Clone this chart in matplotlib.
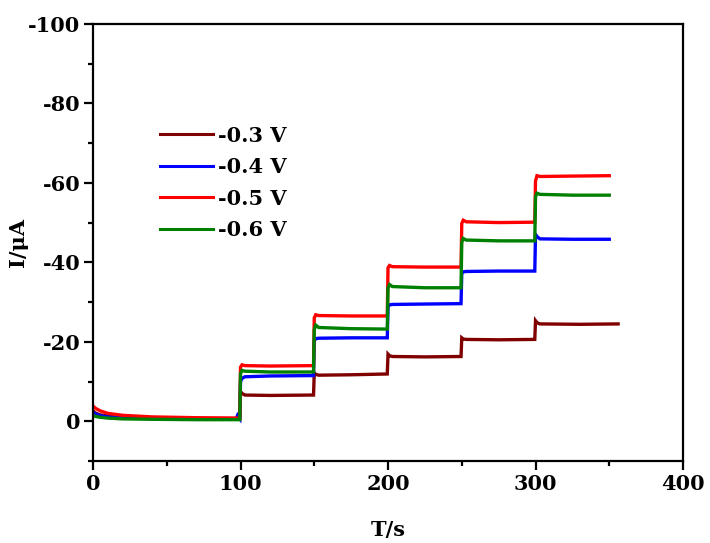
import matplotlib
matplotlib.use("Agg")
import matplotlib.pyplot as plt
from matplotlib.ticker import MultipleLocator

# ---- data (time in s, current in uA) ----
t_03 = [0, 2, 5, 10, 20, 40, 70, 99.5, 100, 101, 103, 120, 149.5, 150, 151, 153, 175, 199.5, 200, 201, 203, 225, 249.5, 250, 251, 253, 275, 299.5, 300, 301, 303, 330, 356]
i_03 = [-2.6, -2.0, -1.6, -1.3, -1.0, -0.8, -0.7, -0.7, -7.5, -7.0, -6.6, -6.5, -6.6, -12.2, -11.8, -11.6, -11.7, -11.9, -16.9, -16.5, -16.3, -16.2, -16.3, -21.0, -20.7, -20.6, -20.5, -20.6, -25.3, -24.8, -24.5, -24.4, -24.5]

t_04 = [0, 2, 5, 10, 20, 40, 70, 97, 98, 99.5, 100, 101, 103, 120, 149.5, 150, 151, 153, 175, 199.5, 200, 201, 203, 225, 249.5, 250, 251, 253, 275, 299.5, 300, 301, 303, 325, 350]
i_04 = [-2.2, -1.8, -1.4, -1.1, -0.9, -0.7, -0.6, -0.6, -1.5, -0.7, -10.0, -10.8, -11.2, -11.4, -11.5, -20.2, -20.8, -20.9, -21.0, -21.0, -28.8, -29.3, -29.4, -29.5, -29.6, -37.2, -37.6, -37.7, -37.8, -37.8, -47.0, -46.5, -45.9, -45.8, -45.8]

t_05 = [0, 2, 5, 10, 20, 40, 70, 99.5, 100, 101, 103, 120, 149.5, 150, 151, 153, 175, 199.5, 200, 201, 203, 225, 249.5, 250, 251, 253, 275, 299.5, 300, 301, 303, 325, 350]
i_05 = [-3.8, -3.2, -2.6, -2.0, -1.5, -1.1, -0.9, -0.8, -13.6, -14.2, -14.0, -13.9, -14.0, -26.0, -26.8, -26.6, -26.5, -26.5, -38.6, -39.2, -38.9, -38.8, -38.8, -49.8, -50.6, -50.2, -50.0, -50.1, -60.5, -61.8, -61.6, -61.7, -61.8]

t_06 = [0, 2, 5, 10, 20, 40, 70, 99.5, 100, 101, 103, 120, 149.5, 150, 151, 153, 175, 199.5, 200, 201, 203, 225, 249.5, 250, 251, 253, 275, 299.5, 300, 301, 303, 325, 350]
i_06 = [-1.5, -1.2, -1.0, -0.8, -0.6, -0.5, -0.4, -0.4, -12.0, -12.8, -12.6, -12.4, -12.4, -23.0, -24.2, -23.6, -23.3, -23.2, -33.5, -34.4, -33.9, -33.6, -33.6, -45.0, -46.0, -45.6, -45.4, -45.4, -56.5, -57.4, -57.1, -56.9, -56.9]

labels = ["-0.3 V", "-0.4 V", "-0.5 V", "-0.6 V"]
colors = ["#800000", "#0000FF", "#FF0000", "#008000"]

x_ticks = [0, 100, 200, 300, 400]
y_ticks = [-100, -80, -60, -40, -20, 0]

plt.rcParams["font.family"] = ["DejaVu Serif"]
plt.rcParams["font.weight"] = "bold"
plt.rcParams["axes.unicode_minus"] = False

fig = plt.figure(figsize=(7.10, 5.43), dpi=100)
ax = fig.add_axes([0.131, 0.151, 0.831, 0.805])

series = [(t_03, i_03), (t_04, i_04), (t_05, i_05), (t_06, i_06)]
for (t, i), lab, c in zip(series, labels, colors):
    ax.plot(t, i, color=c, lw=2.4, label=lab, solid_joinstyle="miter")

ax.set_xlim(0, 400)
ax.set_ylim(10, -100)
ax.set_xticks(x_ticks)
ax.set_yticks(y_ticks)
ax.xaxis.set_minor_locator(MultipleLocator(50))
ax.yaxis.set_minor_locator(MultipleLocator(10))

for s in ax.spines.values():
    s.set_linewidth(1.6)
ax.tick_params(which="major", direction="out", length=6.5, width=1.6,
               labelsize=15, pad=2.5)
ax.tick_params(which="minor", direction="out", length=3.5, width=1.6)
ax.tick_params(top=False, right=False, which="both")
for lbl in ax.get_xticklabels() + ax.get_yticklabels():
    lbl.set_fontweight("bold")

ax.set_xlabel("T/s", fontsize=15, fontweight="bold", labelpad=19)
ax.set_ylabel("I/\u03bcA", fontsize=15, fontweight="bold", labelpad=0)

leg = ax.legend(loc="upper left", bbox_to_anchor=(0.113, 0.767), frameon=False,
                fontsize=15, handlelength=2.55, handletextpad=0.25,
                labelspacing=0.55, borderpad=0, borderaxespad=0)
for line in leg.get_lines():
    line.set_linewidth(2.2)
for txt in leg.get_texts():
    txt.set_fontweight("bold")

fig.savefig("out.png", dpi=100)
